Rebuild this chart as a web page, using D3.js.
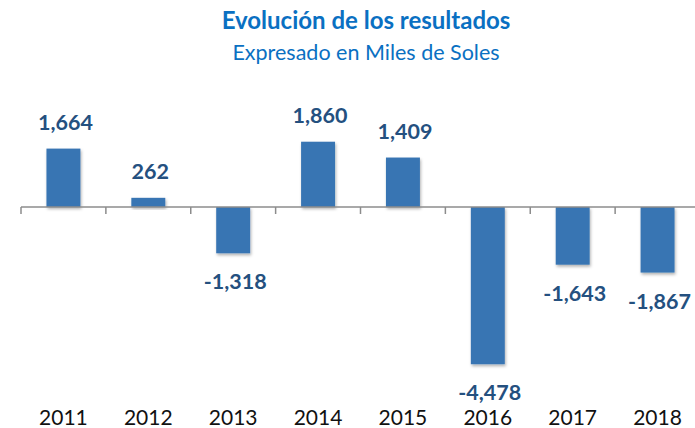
<!DOCTYPE html>
<meta charset="utf-8">
<script src="https://d3js.org/d3.v7.min.js"></script>
<style>
  body { margin: 0; background: #fff; }
</style>
<div id="chart"></div>
<script>
  // data
  const years = ["2011", "2012", "2013", "2014", "2015", "2016", "2017", "2018"];
  const results = [1664, 262, -1318, 1860, 1409, -4478, -1643, -1867];

  const width = 695, height = 428;

  const svg = d3.select("#chart")
    .append("svg")
      .attr("width", width)
      .attr("height", height);

  // soft shadow under the bars
  const defs = svg.append("defs");
  defs.append("filter")
      .attr("id", "shadow")
      .attr("x", "-20%").attr("y", "-20%")
      .attr("width", "150%").attr("height", "150%")
    .append("feDropShadow")
      .attr("dx", 1).attr("dy", 2)
      .attr("stdDeviation", 1.6)
      .attr("flood-color", "#000")
      .attr("flood-opacity", 0.3);

  // title
  svg.append("text")
      .attr("x", 366).attr("y", 29)
      .attr("text-anchor", "middle")
      .attr("font-family", "Lato, sans-serif")
      .attr("font-weight", "bold")
      .attr("font-size", 24)
      .attr("fill", "#0A70C2")
      .text("Evolución de los resultados");

  svg.append("text")
      .attr("x", 366).attr("y", 60)
      .attr("text-anchor", "middle")
      .attr("font-family", "Lato, sans-serif")
      .attr("font-size", 21.5)
      .attr("fill", "#0A70C2")
      .text("Expresado en Miles de Soles");

  // scales
  const x = d3.scaleBand()
    .domain(years)
    .range([21, 700]);

  const y = d3.scaleLinear()
    .domain([-4500, 2000])
    .range([365, 136.8]);

  const barW = x.bandwidth() * 0.4;

  // bars
  svg.append("g")
    .selectAll("rect")
    .data(years)
    .join("rect")
      .attr("x", (d) => x(d) + (x.bandwidth() - barW) / 2)
      .attr("y", (d, i) => y(Math.max(0, results[i])))
      .attr("width", barW)
      .attr("height", (d, i) => Math.abs(y(results[i]) - y(0)))
      .attr("fill", "#3775B3")
      .attr("filter", "url(#shadow)");

  // zero line with category separators
  const axis = svg.append("g")
    .attr("transform", `translate(0, ${y(0)})`);
  axis.append("line")
      .attr("x1", 21).attr("x2", width)
      .attr("stroke", "#8c8c8c").attr("stroke-width", 1.5);
  axis.selectAll(".sep")
    .data(years)
    .join("line")
      .attr("class", "sep")
      .attr("x1", (d) => x(d)).attr("x2", (d) => x(d))
      .attr("y1", 0).attr("y2", 7)
      .attr("stroke", "#8c8c8c").attr("stroke-width", 1.5);

  // value labels
  const fmt = d3.format(",");
  svg.append("g")
    .selectAll("text")
    .data(years)
    .join("text")
      .attr("x", (d) => x(d) + x.bandwidth() / 2 + 2)
      .attr("y", (d, i) => results[i] >= 0 ? y(results[i]) - 19 : y(results[i]) + 36)
      .attr("text-anchor", "middle")
      .attr("font-family", "Lato, sans-serif")
      .attr("font-weight", "bold")
      .attr("font-size", 21.5)
      .attr("fill", "#24507F")
      .text((d, i) => fmt(results[i]).replace("−", "-"));

  // year labels
  svg.append("g")
    .selectAll("text")
    .data(years)
    .join("text")
      .attr("x", (d) => x(d) + x.bandwidth() / 2)
      .attr("y", 425)
      .attr("text-anchor", "middle")
      .attr("font-family", "Lato, sans-serif")
      .attr("font-size", 21)
      .attr("fill", "#111")
      .text((d) => d);
</script>
